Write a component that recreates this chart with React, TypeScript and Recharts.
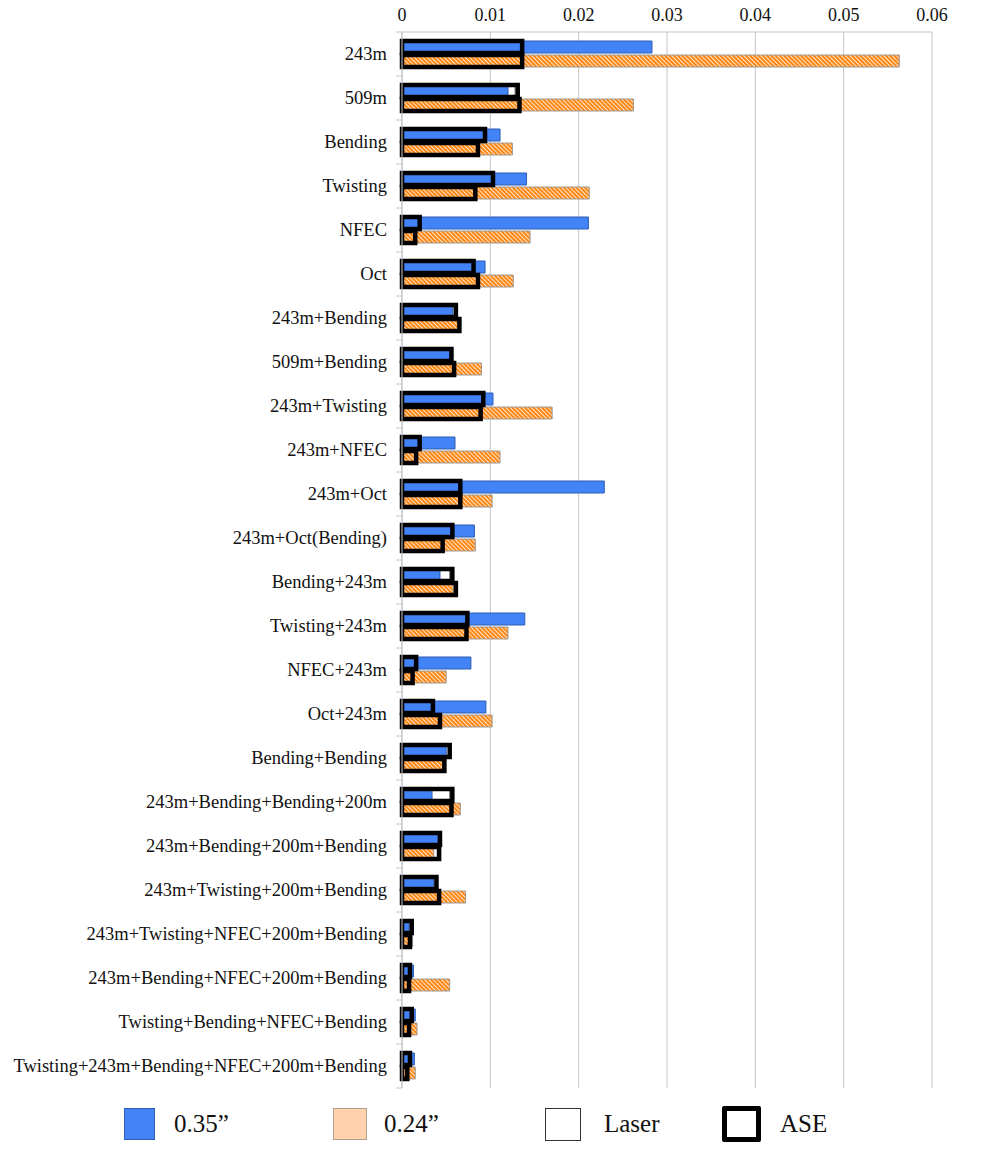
import React from "react";
import { BarChart, Bar, XAxis, YAxis, CartesianGrid } from "recharts";

const categories = [
  "243m",
  "509m",
  "Bending",
  "Twisting",
  "NFEC",
  "Oct",
  "243m+Bending",
  "509m+Bending",
  "243m+Twisting",
  "243m+NFEC",
  "243m+Oct",
  "243m+Oct(Bending)",
  "Bending+243m",
  "Twisting+243m",
  "NFEC+243m",
  "Oct+243m",
  "Bending+Bending",
  "243m+Bending+Bending+200m",
  "243m+Bending+200m+Bending",
  "243m+Twisting+200m+Bending",
  "243m+Twisting+NFEC+200m+Bending",
  "243m+Bending+NFEC+200m+Bending",
  "Twisting+Bending+NFEC+Bending",
  "Twisting+243m+Bending+NFEC+200m+Bending",
];

// 0.35" (blue) and 0.24" (hatched orange)
const values035 = [
  0.0283, 0.012, 0.0111, 0.0141, 0.0211, 0.0094, 0.0057, 0.0054, 0.0103, 0.006, 0.0229, 0.0082,
  0.0043, 0.0139, 0.0078, 0.0095, 0.005, 0.0034, 0.0041, 0.0036, 0.0008, 0.0013, 0.0015, 0.0014,
];
const values024 = [
  0.0563, 0.0262, 0.0125, 0.0212, 0.0145, 0.0126, 0.0063, 0.009, 0.017, 0.0111, 0.0102, 0.0083,
  0.0058, 0.012, 0.005, 0.0102, 0.0046, 0.0066, 0.0036, 0.0072, 0.0012, 0.0054, 0.0017, 0.0015,
];

// Laser (white, behind the coloured bars)
const laser035 = [
  0.013, 0.0128, 0.009, 0.01, 0.0018, 0.0078, 0.0059, 0.0052, 0.0088, 0.0018, 0.0063, 0.0055,
  0.0054, 0.0071, 0.0014, 0.0033, 0.0049, 0.0054, 0.004, 0.0035, 0.0007, 0.0008, 0.001, 0.0008,
];
const laser024 = [
  0.013, 0.0128, 0.0082, 0.008, 0.0013, 0.0083, 0.0062, 0.0057, 0.0086, 0.0014, 0.0063, 0.0044,
  0.0057, 0.007, 0.001, 0.0041, 0.0045, 0.0054, 0.004, 0.004, 0.0008, 0.0007, 0.0007, 0.0005,
];

// ASE (thick outline, on top)
const ase035 = [
  0.0136, 0.0131, 0.0094, 0.0103, 0.002, 0.0081, 0.0061, 0.0056, 0.0092, 0.002, 0.0066, 0.0057,
  0.0057, 0.0074, 0.0016, 0.0035, 0.0054, 0.0057, 0.0043, 0.0039, 0.0011, 0.0009, 0.0011, 0.0009,
];
const ase024 = [
  0.0136, 0.0133, 0.0086, 0.0083, 0.0015, 0.0086, 0.0065, 0.0059, 0.0089, 0.0016, 0.0066, 0.0046,
  0.0061, 0.0073, 0.0012, 0.0043, 0.0048, 0.0056, 0.0042, 0.0042, 0.0009, 0.0008, 0.0008, 0.0006,
];

const xTicks = [0, 0.01, 0.02, 0.03, 0.04, 0.05, 0.06];

const legendItems = [
  { label: "0.35\u201d", kind: "blue" },
  { label: "0.24\u201d", kind: "orange" },
  { label: "Laser", kind: "laser" },
  { label: "ASE", kind: "ase" },
];

const data = categories.map((name, i) => ({
  name,
  v035: values035[i],
  v024: values024[i],
  laser035: laser035[i],
  laser024: laser024[i],
  ase035: ase035[i],
  ase024: ase024[i],
}));

const FONT = '"Liberation Serif", "Times New Roman", serif';
const BAND = 44;
const GRID = "#c6c6c6";
const BLUE = "#4383f8";
const BLUE_EDGE = "#2e5db0";
const ORANGE = "#ff8610";

function CategoryTick(props: any) {
  const { x, y, payload, index } = props;
  const last = index === categories.length - 1;
  return (
    <g>
      <text
        x={x}
        y={y}
        textAnchor="end"
        dominantBaseline="central"
        fontFamily={FONT}
        fontSize={18.5}
        fill="#111"
      >
        {payload.value}
      </text>
      <line x1={x + 9} x2={x + 15} y1={y - BAND / 2} y2={y - BAND / 2} stroke={GRID} />
      {last && <line x1={x + 9} x2={x + 15} y1={y + BAND / 2} y2={y + BAND / 2} stroke={GRID} />}
    </g>
  );
}

function LegendSwatch({ kind }: { kind: string }) {
  if (kind === "blue")
    return <div style={{ width: 29, height: 30, background: BLUE, border: `1px solid ${BLUE_EDGE}` }} />;
  if (kind === "orange")
    return <div style={{ width: 32, height: 30, background: "#ffd2ad", border: "1px solid #b0a090" }} />;
  if (kind === "laser")
    return <div style={{ width: 34, height: 31, background: "#fff", border: "1px solid #333" }} />;
  return <div style={{ width: 29, height: 26, background: "#fff", border: "5px solid #000", borderRadius: 2 }} />;
}

const legendLefts = [124, 333, 545, 722];
const legendGaps = [19, 17, 23, 19];

export default function App() {
  return (
    <div style={{ position: "absolute", left: 0, top: 0, width: 981, height: 1154, background: "#fff" }}>
      <BarChart
        layout="vertical"
        width={981}
        height={1100}
        data={data}
        margin={{ top: 2, right: 49, bottom: 12, left: 8 }}
        barSize={12}
        barGap={2}
      >
        <defs>
          <pattern
            id="hatch"
            patternUnits="userSpaceOnUse"
            width="3"
            height="3"
            patternTransform="rotate(-45)"
          >
            <rect width="3" height="3" fill={ORANGE} />
            <line x1="0.5" y1="0" x2="0.5" y2="3" stroke="#fff" strokeWidth="0.8" />
          </pattern>
        </defs>
        <CartesianGrid yAxisId="main" horizontal={false} stroke={GRID} />
        <XAxis
          type="number"
          orientation="top"
          domain={[0, 0.06]}
          ticks={xTicks}
          interval={0}
          height={30}
          axisLine={{ stroke: GRID }}
          tickLine={false}
          tickSize={0}
          tickMargin={11}
          tick={{ fontFamily: FONT, fontSize: 18, fill: "#111" }}
          tickFormatter={(v: number) => String(v)}
        />
        <YAxis
          yAxisId="main"
          type="category"
          dataKey="name"
          width={394}
          interval={0}
          axisLine={{ stroke: GRID }}
          tickLine={false}
          tickSize={0}
          tickMargin={15}
          tick={(p: any) => <CategoryTick {...p} />}
        />
        <YAxis yAxisId="laser" type="category" dataKey="name" width={0} hide />
        <YAxis yAxisId="ase" type="category" dataKey="name" width={0} hide />

        <Bar yAxisId="laser" dataKey="laser035" fill="#fff" stroke="#444" strokeWidth={0.8} isAnimationActive={false} />
        <Bar yAxisId="laser" dataKey="laser024" fill="#fff" stroke="#444" strokeWidth={0.8} isAnimationActive={false} />

        <Bar yAxisId="main" dataKey="v035" fill={BLUE} stroke={BLUE_EDGE} strokeWidth={1} isAnimationActive={false} />
        <Bar yAxisId="main" dataKey="v024" fill="url(#hatch)" stroke="#999" strokeWidth={1} isAnimationActive={false} />

        <Bar yAxisId="ase" dataKey="ase035" fill="none" stroke="#000" strokeWidth={4.5} isAnimationActive={false} />
        <Bar yAxisId="ase" dataKey="ase024" fill="none" stroke="#000" strokeWidth={4.5} isAnimationActive={false} />
      </BarChart>

      {legendItems.map((item, i) => (
        <div
          key={item.label}
          style={{
            position: "absolute",
            left: legendLefts[i],
            top: 1106,
            height: 36,
            display: "flex",
            alignItems: "center",
            gap: legendGaps[i],
            fontFamily: FONT,
            fontSize: 25,
            color: "#111",
          }}
        >
          <LegendSwatch kind={item.kind} />
          <span>{item.label}</span>
        </div>
      ))}
    </div>
  );
}
